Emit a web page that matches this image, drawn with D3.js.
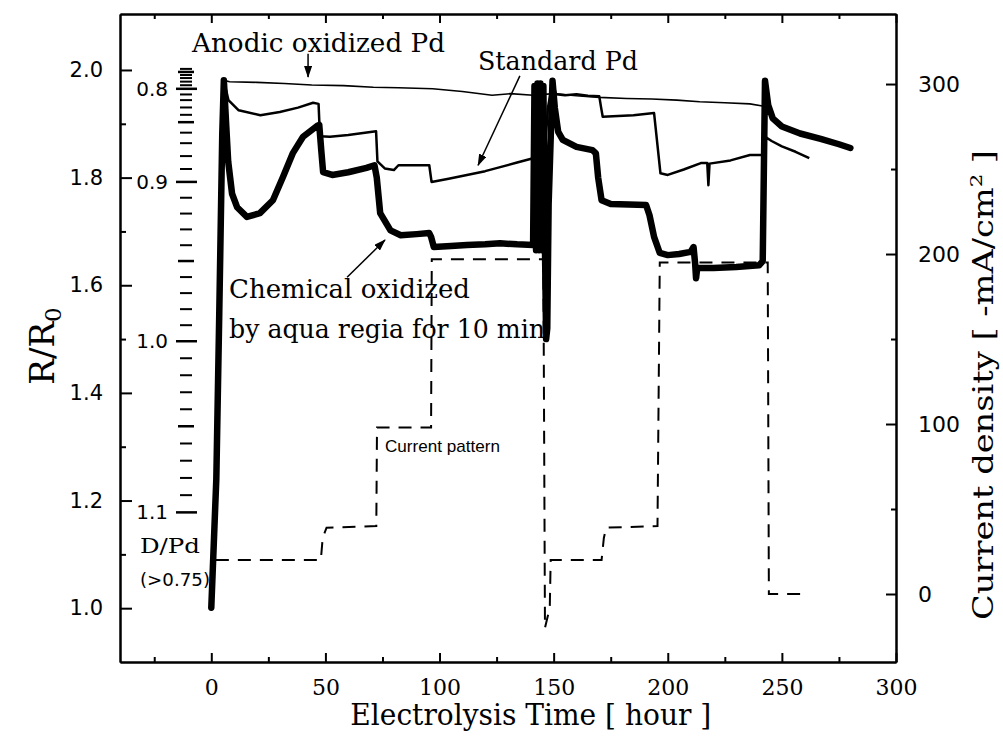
<!DOCTYPE html>
<html lang="en">
<head>
<meta charset="UTF-8">
<title>R/R0 vs electrolysis time</title>
<script src="https://cdn.jsdelivr.net/npm/d3@7/dist/d3.min.js"></script>
<style>
  body { margin: 0; background: #fff; }
  svg { display: block; background: #fff; }
</style>
</head>
<body>
<svg width="1003" height="736"></svg>
<script>
// ---- data (time in hours, R/R0, current in mA/cm2) ----
const anodicT = [5.5, 8, 20, 32, 44, 58, 71, 82, 97, 110, 123, 131, 141, 150, 160, 170, 182, 193, 204, 214, 225, 236, 241.5];
const anodicR = [1.981, 1.978, 1.977, 1.975, 1.972, 1.971, 1.968, 1.967, 1.965, 1.96, 1.953, 1.956, 1.953, 1.956, 1.952, 1.949, 1.947, 1.946, 1.944, 1.941, 1.939, 1.937, 1.933];

const standardT = [5.5, 7.5, 12, 21.5, 30, 38, 44.6, 47, 47.6, 52, 60, 72.2, 72.8, 76, 80, 82, 95.5, 96.5, 104, 112, 120, 127, 134, 141, 143, 146, 147.5, 149.5,
                   151, 155, 160, 165, 170, 170.8, 171.5, 185, 194, 195.5, 196.8, 200, 207, 214.5, 217.3, 217.8, 218.3, 227.5, 236, 241.5, 243, 245.5, 250, 256, 262];
const standardR = [1.981, 1.944, 1.925, 1.916, 1.922, 1.93, 1.939, 1.937, 1.877, 1.876, 1.879, 1.886, 1.83, 1.817, 1.814, 1.823, 1.823, 1.792, 1.798, 1.805, 1.812, 1.82, 1.828, 1.836, 1.84, 1.84, 1.93, 1.978,
                   1.955, 1.953, 1.955, 1.952, 1.951, 1.93, 1.913, 1.916, 1.92, 1.86, 1.808, 1.805, 1.815, 1.827, 1.827, 1.786, 1.826, 1.832, 1.842, 1.842, 1.875, 1.868, 1.858, 1.848, 1.836];

const chemT = [0, 2.2, 3.5, 4.8, 5.5, 6.5, 7.4, 9.1, 11.3, 15.6, 21.3, 27, 31.4, 35.8, 40.2, 46.3, 47.3, 48.2, 49, 53, 60, 68, 71.5, 72.5, 74, 78.5, 83, 90, 95.5, 96.3, 97.5, 105, 112, 120, 126.5, 134, 141,
               141.6, 142.3, 142.9, 143.6, 144.2, 144.9, 145.5, 146.2, 146.7, 147.2, 147.8, 149.5,
               150.5, 152, 154, 160, 167, 168.5, 169.5, 171, 175, 183, 190.5, 192, 194, 196.5, 200, 205, 210, 211.3, 212, 212.4, 212.9, 220, 230, 240, 241.6, 242.6,
               244, 246, 250, 258, 267, 275, 280];
const chemR = [1.001, 1.24, 1.55, 1.88, 1.981, 1.9, 1.83, 1.77, 1.745, 1.727, 1.734, 1.758, 1.801, 1.846, 1.876, 1.896, 1.898, 1.85, 1.81, 1.805, 1.81, 1.818, 1.823, 1.80, 1.734, 1.702, 1.693, 1.695, 1.697, 1.69, 1.671, 1.673, 1.675, 1.676, 1.678, 1.676, 1.675,
               1.97, 1.665, 1.975, 1.665, 1.975, 1.665, 1.97, 1.67, 1.50, 1.52, 1.75, 1.98,
               1.93, 1.885, 1.87, 1.857, 1.851, 1.845, 1.80, 1.758, 1.751, 1.75, 1.749, 1.73, 1.69, 1.66, 1.656, 1.658, 1.662, 1.671, 1.64, 1.613, 1.632, 1.632, 1.634, 1.637, 1.645, 1.98,
               1.935, 1.91, 1.895, 1.882, 1.872, 1.862, 1.855];

const currentT = [2, 48, 48.8, 50.5, 72.3, 72.6, 96.3, 96.6, 145.5, 146.2, 148.3, 148.7, 171, 172, 173, 195.5, 196.5, 243.8, 244.3, 259];
const currentI = [20, 20, 33, 39, 40, 98, 98, 197, 197, -20, -8, 20, 20, 33, 39, 40, 195, 195, 0, 0];

// D/Pd ruler: D/Pd value -> R/R0 value
const dpdKnots = [0.74, 0.77, 0.80, 0.82, 0.85, 0.87, 0.90, 0.95, 1.00, 1.05, 1.10];
const dpdR     = [2.002, 1.985, 1.965, 1.944, 1.903, 1.864, 1.792, 1.645, 1.496, 1.338, 1.178];
const dpdLabels = [0.8, 0.9, 1.0, 1.1];

// tick values
const xTicks = [0, 50, 100, 150, 200, 250, 300];
const xMinor = [-25, 25, 75, 125, 175, 225, 275];
const rTicks = [1.0, 1.2, 1.4, 1.6, 1.8, 2.0];
const rMinor = [1.1, 1.3, 1.5, 1.7, 1.9];
const iTicks = [0, 100, 200, 300];
const iMinor = [50, 150, 250];

// ---- layout ----
const svg = d3.select('svg');
const margin = { left: 120, right: 107, top: 14, bottom: 74 };
const W = +svg.attr('width'), H = +svg.attr('height');

const x = d3.scaleLinear().domain([-40, 300]).range([margin.left, W - margin.right]);
const yL = d3.scaleLinear().domain([0.9, 2.104]).range([H - margin.bottom, margin.top]);
const yR = d3.scaleLinear().domain([-40, 341.2]).range([H - margin.bottom, margin.top]);
const dpd = d3.scaleLinear().domain(dpdKnots).range(dpdR);

const serif = "'DejaVu Serif', serif";
const sans = "'DejaVu Sans', sans-serif";

// arrowhead
svg.append('defs').append('marker')
  .attr('id', 'arrow').attr('markerUnits', 'userSpaceOnUse')
  .attr('markerWidth', 12).attr('markerHeight', 8).attr('refX', 11).attr('refY', 4)
  .attr('orient', 'auto')
  .append('path').attr('d', 'M0,0 L12,4 L0,8 Z').attr('fill', '#000');

// ---- axes ----
function styleAxis(g, font, size) {
  g.attr('font-family', font).attr('font-size', size);
  g.selectAll('path, line').attr('stroke', '#000').attr('stroke-width', 2);
  g.selectAll('text').attr('fill', '#000');
}

// bottom
svg.append('g').attr('transform', `translate(0,${H - margin.bottom})`)
  .call(d3.axisBottom(x).tickValues(xTicks).tickSize(-9).tickSizeOuter(0).tickPadding(17))
  .call(g => styleAxis(g, serif, 22));
svg.append('g').attr('transform', `translate(0,${H - margin.bottom})`)
  .call(d3.axisBottom(x).tickValues(xMinor).tickSize(-5).tickSizeOuter(0).tickFormat(''))
  .call(g => styleAxis(g, serif, 22));
// top
svg.append('g').attr('transform', `translate(0,${margin.top})`)
  .call(d3.axisTop(x).tickValues(xTicks).tickSize(-9).tickSizeOuter(0).tickFormat(''))
  .call(g => styleAxis(g, serif, 22));
svg.append('g').attr('transform', `translate(0,${margin.top})`)
  .call(d3.axisTop(x).tickValues(xMinor).tickSize(-5).tickSizeOuter(0).tickFormat(''))
  .call(g => styleAxis(g, serif, 22));
// left
svg.append('g').attr('transform', `translate(${margin.left},0)`)
  .call(d3.axisLeft(yL).tickValues(rTicks).tickSize(-12).tickSizeOuter(0).tickPadding(17).tickFormat(d3.format('.1f')))
  .call(g => styleAxis(g, sans, 21));
svg.append('g').attr('transform', `translate(${margin.left},0)`)
  .call(d3.axisLeft(yL).tickValues(rMinor).tickSize(-6).tickSizeOuter(0).tickFormat(''))
  .call(g => styleAxis(g, sans, 21));
// right
svg.append('g').attr('transform', `translate(${W - margin.right},0)`)
  .call(d3.axisRight(yR).tickValues(iTicks).tickSize(-10).tickSizeOuter(0).tickPadding(22))
  .call(g => styleAxis(g, sans, 22));
svg.append('g').attr('transform', `translate(${W - margin.right},0)`)
  .call(d3.axisRight(yR).tickValues(iMinor).tickSize(-5).tickSizeOuter(0).tickFormat(''))
  .call(g => styleAxis(g, sans, 22));

// D/Pd ruler inside the plot
const ruler = svg.append('g');
const rulerVals = d3.range(74, 111).map(v => v / 100);
ruler.selectAll('line').data(rulerVals).enter().append('line')
  .attr('x1', d => (Math.round(d * 100) % 10 === 0) ? 176 : (Math.round(d * 100) % 5 === 0 ? 178 : 180))
  .attr('x2', d => (Math.round(d * 100) % 10 === 0) ? 197 : (Math.round(d * 100) % 5 === 0 ? 194 : 192))
  .attr('y1', d => yL(dpd(d))).attr('y2', d => yL(dpd(d)))
  .attr('stroke', '#000')
  .attr('stroke-width', d => (Math.round(d * 100) % 5 === 0) ? 2.5 : 2);
ruler.selectAll('text').data(dpdLabels).enter().append('text')
  .attr('x', 168).attr('y', d => yL(dpd(d))).attr('dy', '0.35em')
  .attr('text-anchor', 'end').attr('font-family', sans).attr('font-size', 20)
  .text(d => d.toFixed(1));

// ---- lines ----
const lineL = d3.line().x(d => x(d[0])).y(d => yL(d[1]));
const lineR = d3.line().x(d => x(d[0])).y(d => yR(d[1]));

svg.append('path').datum(d3.zip(currentT, currentI))
  .attr('d', lineR).attr('fill', 'none').attr('stroke', '#000')
  .attr('stroke-width', 2).attr('stroke-dasharray', '13,9');

svg.append('path').datum(d3.zip(anodicT, anodicR))
  .attr('d', lineL).attr('fill', 'none').attr('stroke', '#000').attr('stroke-width', 1.6);

svg.append('path').datum(d3.zip(standardT, standardR))
  .attr('d', lineL).attr('fill', 'none').attr('stroke', '#000').attr('stroke-width', 2.5)
  .attr('stroke-linejoin', 'round');

svg.append('path').datum(d3.zip(chemT, chemR))
  .attr('d', lineL).attr('fill', 'none').attr('stroke', '#000').attr('stroke-width', 6.5)
  .attr('stroke-linejoin', 'round').attr('stroke-linecap', 'round');

// ---- annotations ----
function label(txt, px, py, font, size, len) {
  const t = svg.append('text').attr('x', px).attr('y', py)
    .attr('font-family', font).attr('font-size', size).attr('fill', '#000').text(txt);
  if (len) t.attr('textLength', len).attr('lengthAdjust', 'spacingAndGlyphs');
  return t;
}
label('Anodic oxidized Pd', 192, 52, serif, 26, 253);
label('Standard Pd', 478, 70, serif, 26, 160);
label('Chemical oxidized', 229, 298, serif, 26, 241);
label('by aqua regia for 10 min', 229, 338, serif, 26, 316);
label('Current pattern', 385, 452, "'Liberation Sans', sans-serif", 17, 115);
label('D/Pd', 140, 553, serif, 20, 60);
label('(>0.75)', 140, 586, sans, 18, 70);

function arrow(t1, r1, t2, r2, w) {
  svg.append('line')
    .attr('x1', x(t1)).attr('y1', yL(r1)).attr('x2', x(t2)).attr('y2', yL(r2))
    .attr('stroke', '#000').attr('stroke-width', w).attr('marker-end', 'url(#arrow)');
}
arrow(42.4, 2.030, 42.4, 1.987, 1.5);
arrow(135.2, 1.989, 116.9, 1.823, 1.5);
arrow(59.5, 1.615, 76.1, 1.684, 1.5);

// axis titles
svg.append('text')
  .attr('transform', `translate(${x(140)},725)`)
  .attr('text-anchor', 'middle').attr('font-family', serif).attr('font-size', 29)
  .attr('textLength', 361).attr('lengthAdjust', 'spacingAndGlyphs')
  .text('Electrolysis Time [ hour ]');

const rl = svg.append('text')
  .attr('transform', 'translate(54,346) rotate(-90)')
  .attr('text-anchor', 'middle').attr('font-family', serif).attr('font-size', 34);
rl.append('tspan').text('R/R');
rl.append('tspan').attr('font-size', 23).attr('dy', 7).text('0');

const cl = svg.append('text')
  .attr('transform', 'translate(993,385) rotate(-90)')
  .attr('text-anchor', 'middle').attr('font-family', serif).attr('font-size', 27)
  .attr('textLength', 470).attr('lengthAdjust', 'spacingAndGlyphs');
cl.append('tspan').text('Current density [ -mA/cm');
cl.append('tspan').attr('font-size', 17).attr('dy', -11).text('2');
cl.append('tspan').attr('dy', 11).text(' ]');
</script>
</body>
</html>
